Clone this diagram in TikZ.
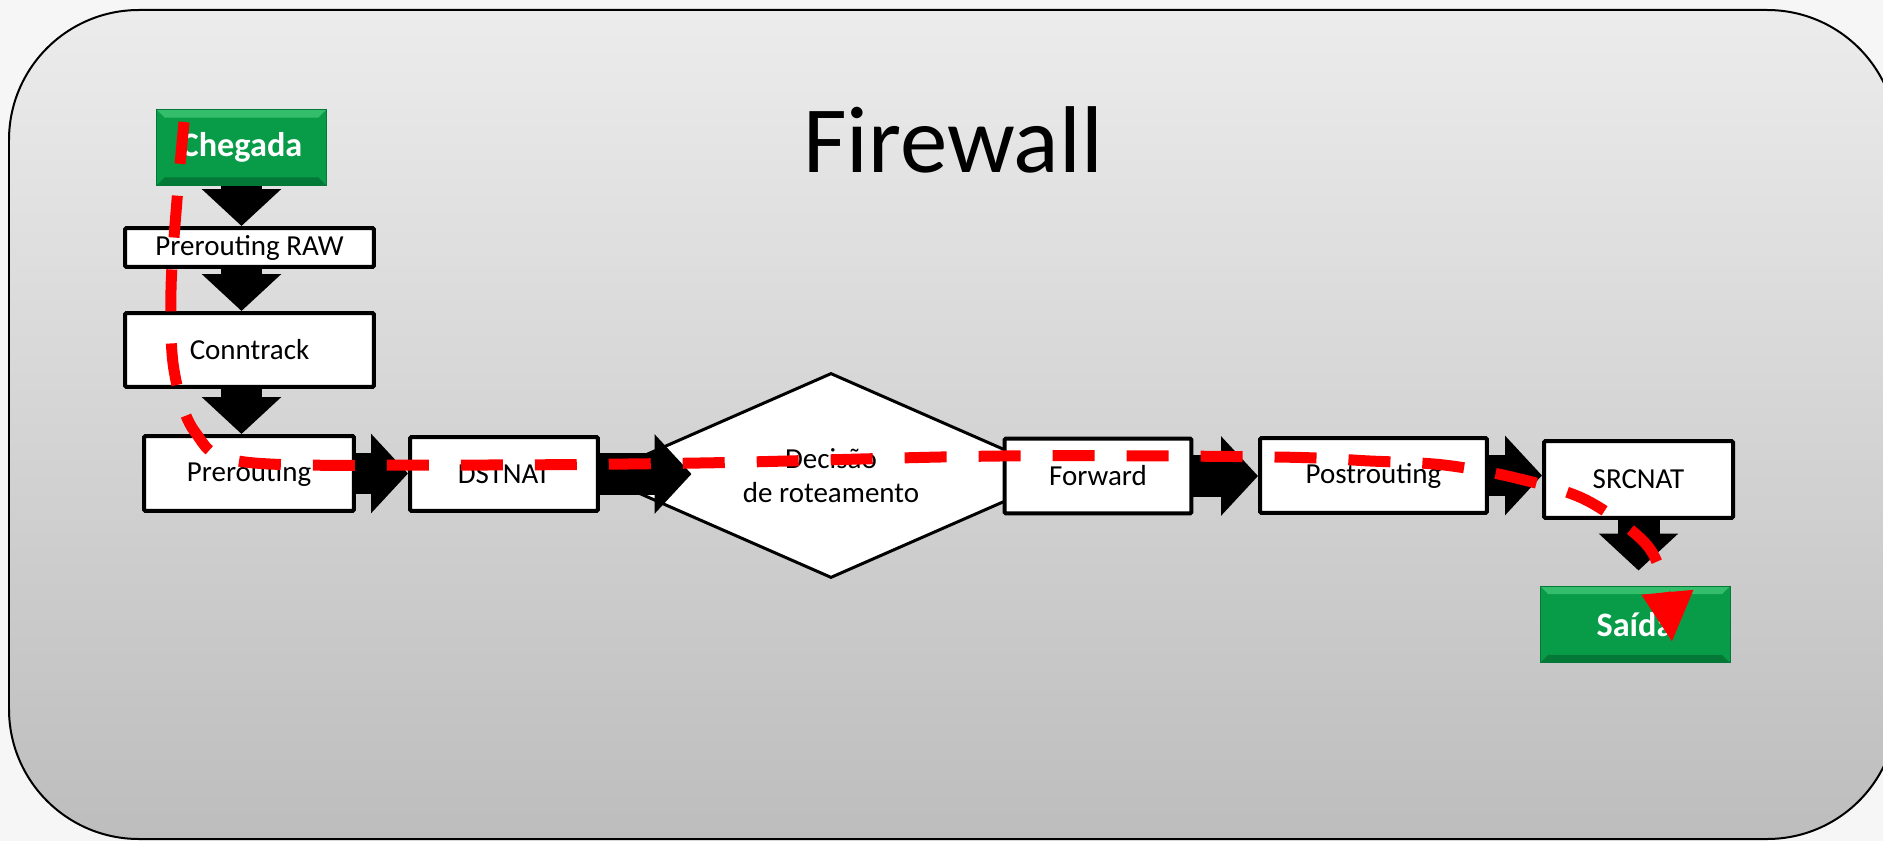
\documentclass[tikz,border=0pt]{standalone}
\usepackage{fontspec}
\setmainfont{Carlito}
\usetikzlibrary{arrows.meta, shapes.geometric}

\definecolor{pagebg}{RGB}{246,246,246}
\definecolor{paneltop}{RGB}{236,236,236}
\definecolor{panelbottom}{RGB}{189,189,189}
\definecolor{btngreen}{RGB}{8,156,72}
\definecolor{btnlight}{RGB}{52,190,108}
\definecolor{btndark}{RGB}{4,120,54}
\definecolor{routered}{RGB}{255,0,0}

\tikzset{
    box/.style={draw=black, fill=white, line width=0.08cm, rounded corners=0.03cm,
        inner sep=0pt, font=\fontsize{16.5}{20}\selectfont},
    decision/.style={diamond, aspect=2.27, draw=black, fill=white, line width=0.06cm, inner sep=0pt,
        minimum width=9.32cm, minimum height=4.1cm, align=center,
        font=\fontsize{16.5}{19}\selectfont},
    button/.style={draw=btndark, fill=btngreen, line width=0.02cm, inner sep=0pt,
        text=white, font=\bfseries\fontsize{19.5}{22}\selectfont,
        path picture={
            \fill[btnlight] (path picture bounding box.north west) -- (path picture bounding box.north east)
                -- ([xshift=-0.16cm, yshift=-0.16cm]path picture bounding box.north east)
                -- ([xshift=0.16cm, yshift=-0.16cm]path picture bounding box.north west) -- cycle;
            \fill[btndark] (path picture bounding box.south west) -- (path picture bounding box.south east)
                -- ([xshift=-0.16cm, yshift=0.16cm]path picture bounding box.south east)
                -- ([xshift=0.16cm, yshift=0.16cm]path picture bounding box.south west) -- cycle;
        }},
    flow/.style={draw=black, line width=0.84cm, -{Triangle[length=0.74cm, width=1.55cm]}},
    route/.style={draw=routered, line width=0.22cm, dash pattern=on 0.84cm off 0.64cm,
        -{Triangle[length=1.0cm, width=0.98cm]}}
}

\begin{document}
\begin{tikzpicture}[x=0.02cm, y=-0.02cm]
    \useasboundingbox (0,0) rectangle (1883,841);
    \fill[pagebg] (0,0) rectangle (1883,841);
    \clip (0,0) rectangle (1883,841);

    % panel
    \path[top color=paneltop, bottom color=panelbottom, draw=black, line width=0.04cm,
        rounded corners=2.6cm] (9,10) rectangle (1897,839);
    \node[font=\fontsize{54}{60}\selectfont] (title) at (953,140) {Firewall};

    % decision first, the boxes cover its tips
    \node[decision] (dec) at (831,475.5) {Decisão\\de roteamento};

    \node[button, minimum width=3.4cm, minimum height=1.52cm] (chegada) at (241.5,147.5) {Chegada};
    \node[box, minimum width=4.98cm, minimum height=0.78cm] (raw) at (249.5,247.5) {Prerouting RAW};
    \node[box, minimum width=4.98cm, minimum height=1.48cm] (conn) at (249.5,350) {Conntrack};
    \node[box, minimum width=4.2cm, minimum height=1.5cm] (pre) at (249,473.5) {Prerouting};
    \node[box, minimum width=3.76cm, minimum height=1.48cm] (dst) at (504,474) {DSTNAT};
    \node[box, minimum width=3.74cm, minimum height=1.5cm] (fwd) at (1098,476) {Forward};
    \node[box, minimum width=4.54cm, minimum height=1.5cm] (post) at (1373.5,475.5) {Postrouting};
    \node[box, minimum width=3.78cm, minimum height=1.54cm] (src) at (1638.5,479.5) {SRCNAT};
    \node[button, minimum width=3.8cm, minimum height=1.54cm] (saida) at (1635,624.5) {Saída};

    % chain arrows
    \draw[flow] (chegada.south) -- (chegada.south |- raw.north);
    \draw[flow] (chegada.south |- raw.south) -- (chegada.south |- conn.north);
    \draw[flow] (chegada.south |- conn.south) -- (chegada.south |- pre.north);
    \draw[flow] (pre.east) -- (pre.east -| dst.west);
    \draw[flow] (dst.east) -- ([xshift=1.9cm]dst.east -| dec.west);
    \draw[flow] (fwd.east) -- (fwd.east -| post.west);
    \draw[flow] (post.east) -- (post.east -| src.west);
    \draw[flow, shorten >=0.3cm] (src.south) -- (src.south |- saida.north);

    % packet path
    \draw[route] plot[smooth, tension=0.55] coordinates {
        (184,122) (177,200) (171,290) (174,370) (195,432) (245,462) (450,465) (700,463)
        (1000,456) (1275,457) (1370,461) (1444,465) (1516,478) (1586,500) (1645,543)
        (1664,585) (1672,642)};
\end{tikzpicture}
\end{document}
